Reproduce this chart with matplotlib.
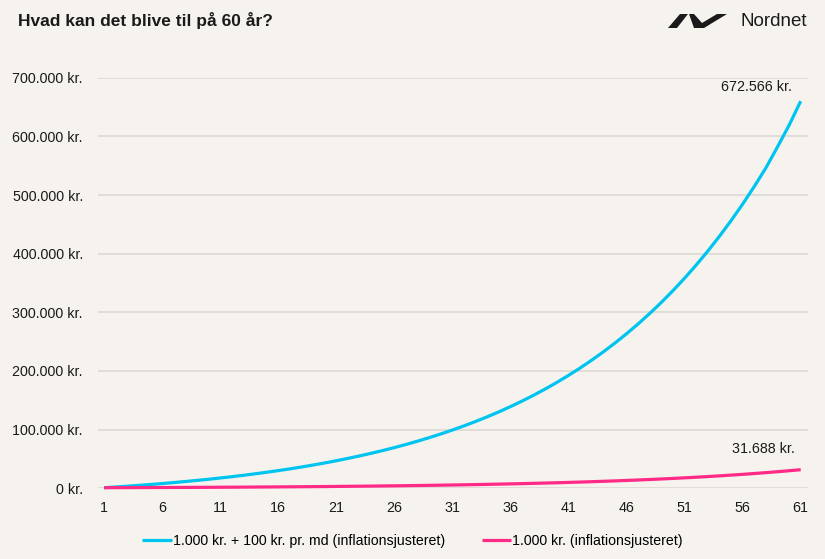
"""
Hvad kan det blive til på 60 år? - Nordnet style line chart
"""
import matplotlib
matplotlib.use('Agg')
import matplotlib.pyplot as plt
from matplotlib.patches import Polygon
from matplotlib.ticker import FuncFormatter

# Data (year 1..61)
years = list(range(1, 62))
monthly_savings = [
    1000, 2259, 3593, 5006, 6503, 8089, 9769, 11548, 13433, 15430,
    17545, 19785, 22158, 24672, 27335, 30156, 33144, 36309, 39662, 43214,
    46977, 50963, 55185, 59657, 64395, 69414, 74730, 80361, 86326, 92645,
    99339, 106430, 113941, 121898, 130327, 139255, 148713, 158732, 169345, 180587,
    192496, 205111, 218474, 232630, 247625, 263509, 280335, 298159, 317040, 337040,
    358227, 380670, 404444, 429628, 456305, 484564, 514499, 546209, 582000, 619000,
    660000,
]
single_deposit = [
    1000, 1059, 1122, 1189, 1259, 1334, 1413, 1497, 1585, 1679,
    1779, 1884, 1996, 2114, 2240, 2373, 2513, 2662, 2820, 2987,
    3165, 3352, 3551, 3762, 3985, 4221, 4471, 4736, 5017, 5315,
    5630, 5964, 6317, 6692, 7089, 7509, 7955, 8426, 8926, 9455,
    10016, 10610, 11239, 11906, 12612, 13360, 14152, 14991, 15880, 16822,
    17819, 18876, 19995, 21181, 22437, 23767, 25177, 26670, 28251, 29926,
    31688,
]
end_labels = ['672.566 kr.', '31.688 kr.']
series_labels = ['1.000 kr. + 100 kr. pr. md (inflationsjusteret)',
                 '1.000 kr. (inflationsjusteret)']
x_ticks = list(range(1, 62, 5))
y_ticks = list(range(0, 700001, 100000))

BG = '#f6f3ef'
BLUE = '#00c4f0'
PINK = '#ff2a86'
GRID = '#dcd8d4'
TXT = '#1a1a1a'
FONT = ['Liberation Sans', 'DejaVu Sans']
plt.rcParams['font.family'] = FONT

fig = plt.figure(figsize=(8.25, 5.59), dpi=100, facecolor=BG)
ax = fig.add_axes([0.119, 0.1265, 0.860, 0.7345], facecolor=BG)

ax.plot(years, monthly_savings, color=BLUE, linewidth=2.3, clip_on=False,
        solid_capstyle='butt', label=series_labels[0], zorder=3)
ax.plot(years, single_deposit, color=PINK, linewidth=2.3, clip_on=False,
        solid_capstyle='butt', label=series_labels[1], zorder=3)

ax.set_xlim(0.483, 61.6)
ax.set_ylim(0, 700000)
ax.set_xticks(x_ticks)
ax.set_yticks(y_ticks)
ax.yaxis.set_major_formatter(FuncFormatter(
    lambda v, p: f"{int(v):,}".replace(',', '.') + ' kr.'))
ax.tick_params(length=0, colors=TXT, labelsize=10.3)
ax.tick_params(axis='y', pad=11)
ax.tick_params(axis='x', pad=9)
ax.grid(axis='y', color=GRID, linewidth=1.2)
ax.set_axisbelow(True)
for s in ax.spines.values():
    s.set_visible(False)

# End value labels
ax.annotate(end_labels[0], (years[-1], monthly_savings[-1]), xytext=(-6, 5),
            textcoords='offset points', ha='right', va='bottom',
            fontsize=10.3, color=TXT)
ax.annotate(end_labels[1], (years[-1], single_deposit[-1]), xytext=(-4, 10),
            textcoords='offset points', ha='right', va='bottom',
            fontsize=10.3, color=TXT)

# Title and logo
fig.text(0.022, 0.963, 'Hvad kan det blive til på 60 år?', fontsize=12.5,
         fontweight='bold', color=TXT, va='center')
fig.text(0.978, 0.961, 'Nordnet', fontsize=13.5, color=TXT, va='center',
         ha='right')
W, H = 825, 559
def fpoly(pts):
    return Polygon([(x / W, 1 - y / H) for x, y in pts], closed=True,
                   transform=fig.transFigure, color=TXT, linewidth=0)
fig.patches.append(fpoly([(668, 28), (677, 28), (688, 14), (680, 14)]))
fig.patches.append(fpoly([(689, 14), (694, 14), (702, 23), (717, 14),
                          (727, 14), (704, 28), (694, 28)]))

fig.legend(loc='center', bbox_to_anchor=(0.5, 1 - 541 / 559), ncol=2,
           frameon=False, handlelength=2.1, columnspacing=2.6,
           handletextpad=0.05, prop={'size': 10.2})

fig.savefig('out.png', dpi=100, facecolor=BG)
